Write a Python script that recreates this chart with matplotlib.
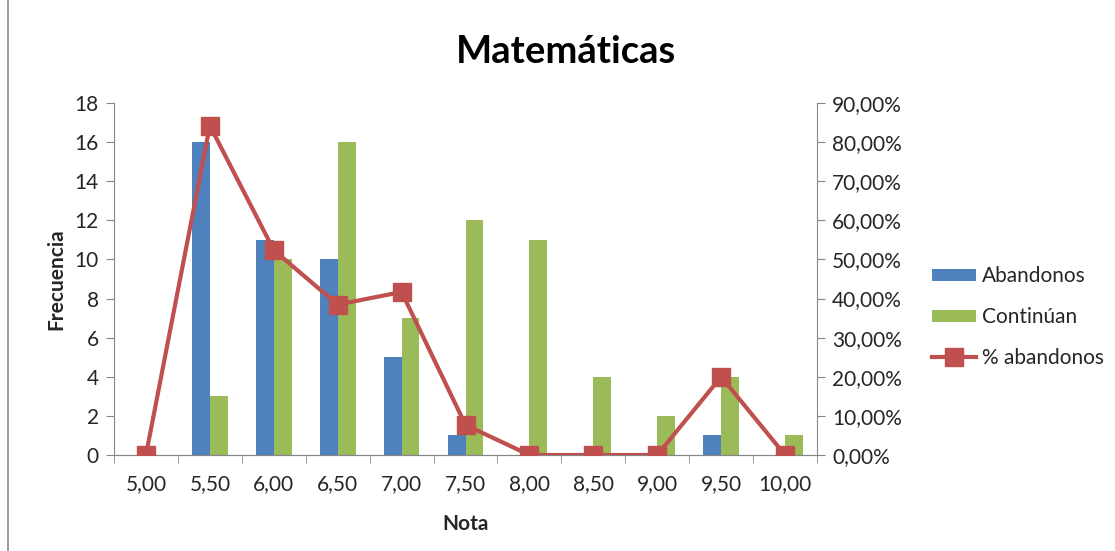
import matplotlib
matplotlib.use("Agg")
import matplotlib.pyplot as plt
import numpy as np
from matplotlib.ticker import FixedLocator, FuncFormatter
from matplotlib.patches import Rectangle

categories = ["5,00", "5,50", "6,00", "6,50", "7,00", "7,50", "8,00", "8,50", "9,00", "9,50", "10,00"]
abandonos = [0, 16, 11, 10, 5, 1, 0, 0, 0, 1, 0]
continuan = [0, 3, 10, 16, 7, 12, 11, 4, 2, 4, 1]
pct_abandonos = [0.0, 84.21, 52.38, 38.46, 41.67, 7.69, 0.0, 0.0, 0.0, 20.0, 0.0]

plt.rcParams['font.family'] = ['Lato', 'DejaVu Sans']
BLUE = '#4F81BD'
GREEN = '#9BBB59'
RED = '#C0504D'
GRAY = '#868686'
TXT = '#262626'

fig = plt.figure(figsize=(11.15, 5.51), dpi=100)
ax = fig.add_axes([114/1115, 1-455/551, (817-114)/1115, (455-103)/551])
ax2 = ax.twinx()

x = np.arange(len(categories))
w = 0.28
ax.bar(x - w/2, abandonos, w, color=BLUE, label='Abandonos', zorder=2)
ax.bar(x + w/2, continuan, w, color=GREEN, label='Continúan', zorder=2)
ln, = ax2.plot(x, pct_abandonos, color=RED, lw=3, marker='s', markersize=13,
               label='% abandonos', zorder=3)

ax.set_xlim(-0.5, len(categories) - 0.5)
ax.set_ylim(0, 18)
ax.set_yticks(range(0, 19, 2))
ax2.set_ylim(0, 90)
ax2.set_yticks(range(0, 91, 10))
ax2.yaxis.set_major_formatter(FuncFormatter(lambda v, p: f"{v:.2f}%".replace('.', ',')))

FS = 15
ax.set_xticks(x)
ax.set_xticklabels(categories)
ax.xaxis.set_minor_locator(FixedLocator(np.arange(-0.5, len(categories), 1.0)))
ax.tick_params(axis='x', which='major', length=0, pad=14, labelsize=FS, labelcolor=TXT)
ax.tick_params(axis='x', which='minor', length=6, color=GRAY, direction='out')
ax.tick_params(axis='y', length=6, color=GRAY, labelsize=FS, labelcolor=TXT, pad=5)
ax2.tick_params(axis='y', length=6, color=GRAY, labelsize=FS, labelcolor=TXT, pad=5)

for a in (ax, ax2):
    a.spines['top'].set_visible(False)
    a.spines['left'].set_color(GRAY)
    a.spines['right'].set_color(GRAY)
    a.spines['bottom'].set_color(GRAY)
ax.spines['right'].set_visible(False)
ax2.spines['left'].set_visible(False)

ax.set_xlabel('Nota', fontsize=FS, fontweight='bold', color=TXT, labelpad=14)
ax.set_ylabel('Frecuencia', fontsize=FS, fontweight='bold', color=TXT, labelpad=6)
fig.text(566/1115, 1-52/551, 'Matemáticas', ha='center', va='center',
         fontsize=27.5, fontweight='bold', color='black')

h1, l1 = ax.get_legend_handles_labels()
h2, l2 = ax2.get_legend_handles_labels()
fig.legend(h1 + h2, l1 + l2, loc='center left', bbox_to_anchor=(913/1115, 1-317/551),
           frameon=False, fontsize=FS, handlelength=2.1, handleheight=0.5,
           handletextpad=0.3, labelspacing=1.0, labelcolor=TXT)

fig.patches.append(Rectangle((8/1115, -0.05), 1.2, 1.2, transform=fig.transFigure,
                             fill=False, edgecolor='#8c8c8c', lw=1.2))

fig.savefig('out.png', dpi=100)
